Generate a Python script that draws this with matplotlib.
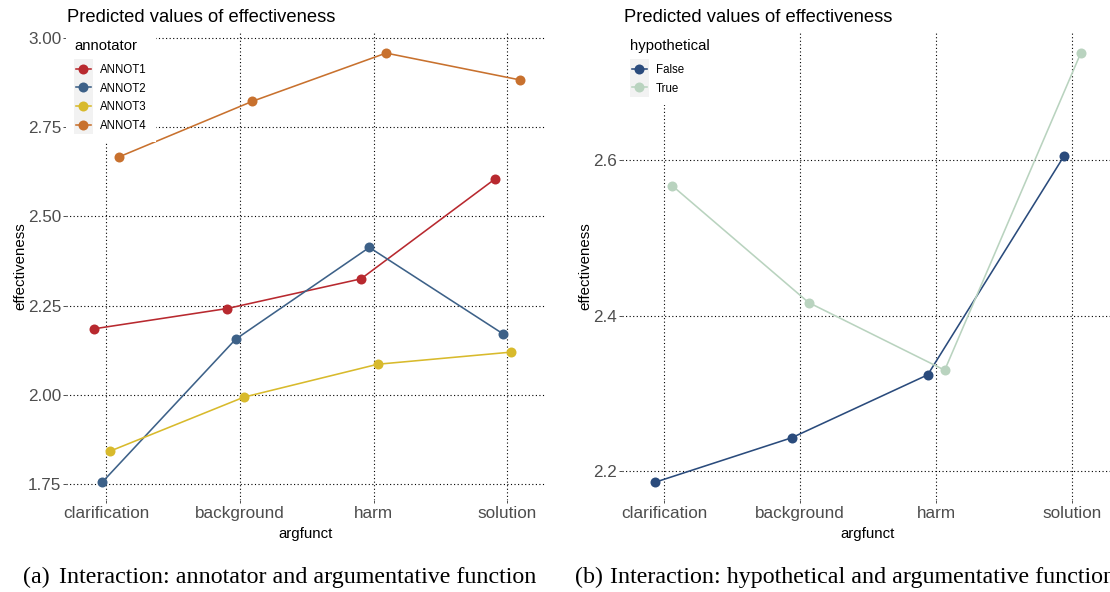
import numpy as np
import matplotlib
matplotlib.use('Agg')
import matplotlib.pyplot as plt
from matplotlib.patches import Rectangle

# predicted effectiveness per argumentative function
argfunct = ['clarification', 'background', 'harm', 'solution']

annotators = ['ANNOT1', 'ANNOT2', 'ANNOT3', 'ANNOT4']
annot1 = [2.185, 2.242, 2.325, 2.604]
annot2 = [1.755, 2.156, 2.413, 2.171]
annot3 = [1.843, 1.994, 2.086, 2.120]
annot4 = [2.666, 2.822, 2.957, 2.882]
annot_colors = ['#B8292F', '#3D6188', '#D8BA2C', '#C8712E']

hypothetical = ['False', 'True']
hyp_false = [2.186, 2.243, 2.324, 2.605]
hyp_true = [2.567, 2.417, 2.330, 2.738]
hyp_colors = ['#2A4B7C', '#B9D3BF']

a_yticks = [1.75, 2.00, 2.25, 2.50, 2.75, 3.00]
b_yticks = [2.2, 2.4, 2.6]

W, H = 1110, 592
plt.rcParams['font.family'] = ['Liberation Sans', 'DejaVu Sans']
fig = plt.figure(figsize=(W / 100, H / 100), dpi=100)

GREY = '#4D4D4D'


def make_axes(left, right, top=32, bottom=500):
    ax = fig.add_axes([left / W, 1 - bottom / H, (right - left) / W, (bottom - top) / H])
    ax._ext = (left, right, top, bottom)
    return ax


def to_ax(ax, x, y):
    l, r, t, b = ax._ext
    return (x - l) / (r - l), (b - y) / (b - t)


def style(ax, yticks, fmt, xlim, ylim):
    for s in ax.spines.values():
        s.set_visible(False)
    ax.set_axisbelow(True)
    ax.grid(True, linestyle=(0, (1, 2.2)), color='black', lw=0.8)
    ax.set_xticks(range(len(argfunct)))
    ax.set_xticklabels(argfunct)
    ax.set_yticks(yticks)
    ax.set_yticklabels([fmt % v for v in yticks])
    ax.tick_params(length=2.2, width=0.7, color=GREY, labelcolor=GREY, labelsize=12.3)
    ax.tick_params(axis='y', pad=1.2)
    ax.tick_params(axis='x', pad=2.0)
    ax.set_xlim(*xlim)
    ax.set_ylim(*ylim)


def draw_lines(ax, series, colors, step):
    x = np.arange(len(argfunct))
    offs = (np.arange(len(series)) - (len(series) - 1) / 2) * step
    for vals, col, dx in zip(series, colors, offs):
        ax.plot(x + dx, vals, '-', color=col, lw=1.15, zorder=3)
        ax.plot(x + dx, vals, 'o', color=col, ms=7.2, mew=0, zorder=4)


def draw_legend(ax, title, names, colors, box, key_x, label_x):
    # white backing box, then grey key column, then entries
    x0, y0 = to_ax(ax, box[0], box[3])
    x1, y1 = to_ax(ax, box[1], box[2])
    ax.add_patch(Rectangle((x0, y0), x1 - x0, y1 - y0, transform=ax.transAxes,
                           facecolor='white', edgecolor='none', zorder=5))
    kx0, ky0 = to_ax(ax, key_x, 59.3 + 18.7 * len(names))
    kx1, ky1 = to_ax(ax, key_x + 18.7, 59.3)
    ax.add_patch(Rectangle((kx0, ky0), kx1 - kx0, ky1 - ky0, transform=ax.transAxes,
                           facecolor='#F2F2F2', edgecolor='none', zorder=6))
    tx, ty = to_ax(ax, key_x, 50)
    ax.text(tx, ty, title, transform=ax.transAxes, fontsize=10.7, color='black',
            ha='left', va='baseline', zorder=7)
    for i, (name, col) in enumerate(zip(names, colors)):
        yc = 68.7 + 18.7 * i
        lx0, ly = to_ax(ax, key_x + 2, yc)
        lx1, _ = to_ax(ax, key_x + 16.7, yc)
        mx, _ = to_ax(ax, key_x + 9.35, yc)
        ax.plot([lx0, lx1], [ly, ly], '-', color=col, lw=1.15, transform=ax.transAxes, zorder=7)
        ax.plot([mx], [ly], 'o', color=col, ms=7.2, mew=0, transform=ax.transAxes, zorder=8)
        nx, ny = to_ax(ax, label_x, yc + 4.3)
        ax.text(nx, ny, name, transform=ax.transAxes, fontsize=8.3, color='black',
                ha='left', va='baseline', zorder=8)


# (a) annotator x argumentative function
ax_a = make_axes(66, 546)
style(ax_a, a_yticks, '%.2f', (-0.30, 3.29), (1.706, 3.016))
draw_lines(ax_a, [annot1, annot2, annot3, annot4], annot_colors, 0.0625)
draw_legend(ax_a, 'annotator', annotators, annot_colors, (66, 156, 33, 142), 74, 99.5)

# (b) hypothetical x argumentative function
ax_b = make_axes(621.5, 1114.5)
style(ax_b, b_yticks, '%.1f', (-0.312, 3.31), (2.163, 2.765))
draw_lines(ax_b, [hyp_false, hyp_true], hyp_colors, 0.125)
draw_legend(ax_b, 'hypothetical', hypothetical, hyp_colors, (621.5, 718, 33, 105), 630, 656.2)

for ax, tx, ylx in [(ax_a, 67, 24.3), (ax_b, 623.7, 589.8)]:
    l, r, t, b = ax._ext
    fig.text(tx / W, 1 - 22.3 / H, 'Predicted values of effectiveness', fontsize=13.2,
             ha='left', va='baseline')
    fig.text((l + r) / 2 / W, 1 - 538.3 / H, 'argfunct', fontsize=10.8,
             ha='center', va='baseline')
    fig.text(ylx / W, 1 - (t + b) / 2 / H, 'effectiveness', fontsize=10.8, rotation=90,
             rotation_mode='anchor', ha='center', va='baseline')

# sub-captions
serif = ['Liberation Serif', 'DejaVu Serif']
cap_y = 1 - 583.3 / H
cap_fs = 17.3
fig.text(23.3 / W, cap_y, '(a)', family=serif, fontsize=cap_fs, ha='left', va='baseline')
fig.text(59.3 / W, cap_y, 'Interaction: annotator and argumentative function',
         family=serif, fontsize=cap_fs, ha='left', va='baseline')
fig.text(575 / W, cap_y, '(b)', family=serif, fontsize=cap_fs, ha='left', va='baseline')
fig.text(610 / W, cap_y, 'Interaction: hypothetical and argumentative function',
         family=serif, fontsize=cap_fs, ha='left', va='baseline')

fig.savefig('out.png', dpi=100)
